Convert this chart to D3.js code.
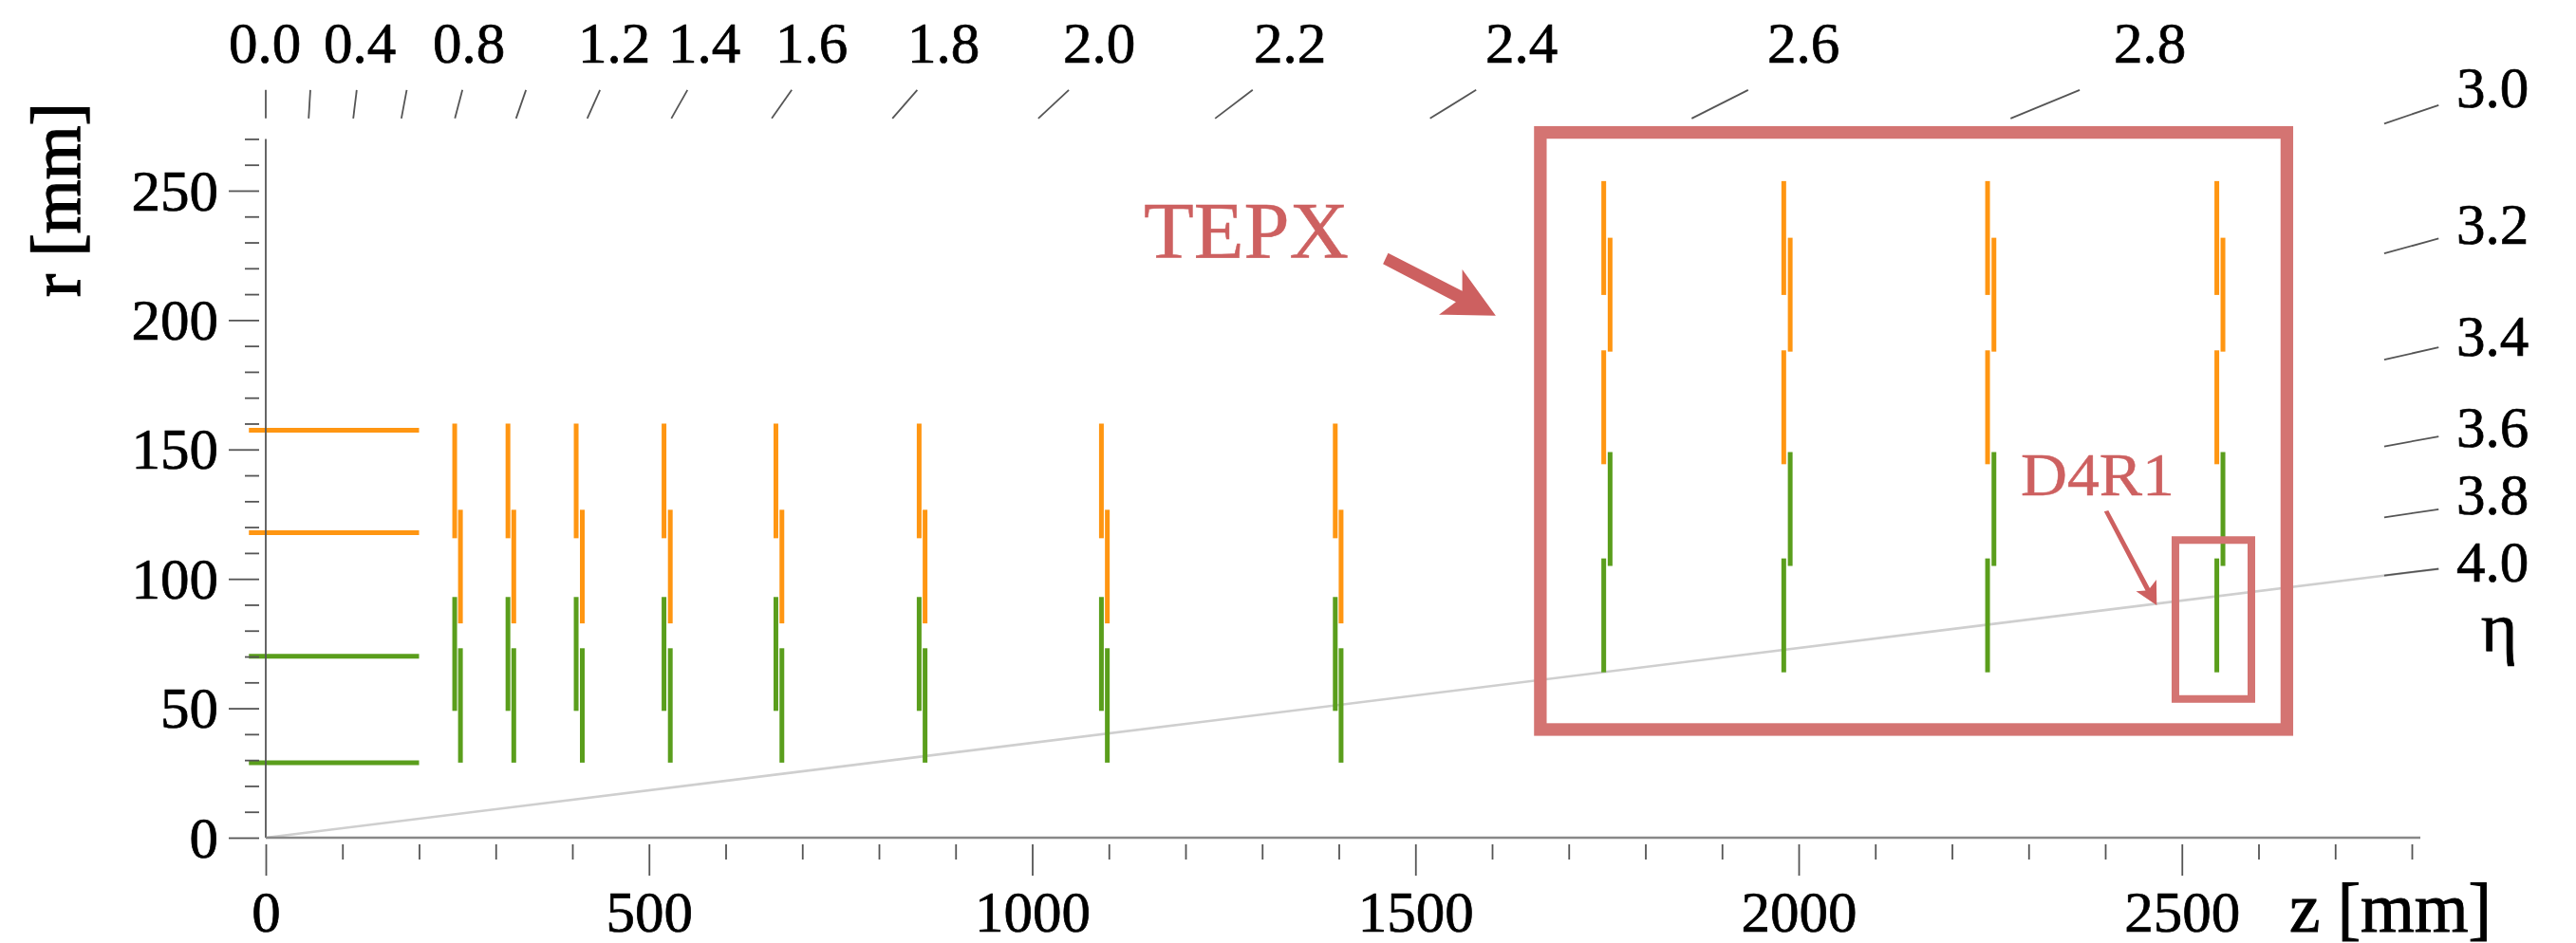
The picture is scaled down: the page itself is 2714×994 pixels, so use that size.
<!DOCTYPE html>
<html><head><meta charset="utf-8">
<script src="https://cdn.jsdelivr.net/npm/d3@7"></script>
<style>html,body{margin:0;padding:0;background:#fff}svg{display:block}text{font-family:"Liberation Serif",serif;fill:#000}</style>
</head><body><svg id="c" width="2714" height="994"></svg>
<script>
// ---- data (mm) ----
const zMajor = [0, 500, 1000, 1500, 2000, 2500];
const zMinor = [100,200,300,400,600,700,800,900,1100,1200,1300,1400,1600,1700,1800,1900,2100,2200,2300,2400,2600,2700,2800];
const rMajor = [0, 50, 100, 150, 200, 250];
const rMinor = [10,20,30,40,60,70,80,90,110,120,130,140,160,170,180,190,210,220,230,240,260,270];
const etaTop = [0.0,0.2,0.4,0.6,0.8,1.0,1.2,1.4,1.6,1.8,2.0,2.2,2.4,2.6,2.8];
const etaTopLabels = ["0.0","0.4","0.8","1.2","1.4","1.6","1.8","2.0","2.2","2.4","2.6","2.8"];
const etaTopLabelX = [279,379,494,647,742,855,994,1158,1359,1603,1900,2265];
const etaRight = [3.0,3.2,3.4,3.6,3.8,4.0];
const etaRightLabels = ["3.0","3.2","3.4","3.6","3.8","4.0"];
const etaRightBaseline = [112.7,256.7,375,470.7,542.3,613.3];

const barrelR = [157.4, 117.8, 70.1, 29];
const barrelColor = ["orange","orange","green","green"];
const barrelZ = [-22, 200];

const tfpxZA = [246.5, 316, 405, 519.6, 665.6, 852.5, 1090.3, 1395.4];
const tfpxZB = [254, 323.6, 413, 527.8, 673.4, 860.2, 1098, 1403];
const tepxZA = [1745.7, 1980.6, 2246.5, 2545.6];
const tepxZB = [1754, 1989, 2254.8, 2553.6];

const tfpxRingsA = [[115.7,160,"orange"],[49,93,"green"]];
const tfpxRingsB = [[82.8,126.7,"orange"],[29,73.2,"green"]];
const tepxRingsA = [[209.7,253.7,"orange"],[144.3,188.3,"orange"],[63.9,107.9,"green"]];
const tepxRingsB = [[187.8,231.8,"orange"],[105,149,"green"]];

const tepxBox = {z:[1663,2637], r:[41.8,272.5]};
const d4r1Box = {z:[2491.6,2590.7], r:[53.6,115]};

// ---- style ----
const colors = {orange:"#ff9612", green:"#5a9e1c"};
const boxColor = "#d47472", noteColor = "#cd6060", tickColor = "#555";
const FS = 61, SW = 0.7;

const svg = d3.select("#c");
const x = d3.scaleLinear().domain([0,2800]).range([280,2541]);
const y = d3.scaleLinear().domain([0,270]).range([883,146.4]);

const rOf = (z,eta)=> z/Math.sinh(eta);
const zOf = (r,eta)=> r*Math.sinh(eta);
const zEnd = 2835, zIn = 2764, rIn = 277.9, rOut = 288.9;

// eta reference line
svg.append("line").attr("x1",x(0)).attr("y1",y(0)).attr("x2",x(zEnd)).attr("y2",y(rOf(zEnd,4)))
  .attr("stroke","#cfcfcf").attr("stroke-width",2.6);

// barrel layers
svg.append("g").selectAll("line").data(barrelR).join("line")
  .attr("x1",x(barrelZ[0])).attr("x2",x(barrelZ[1]))
  .attr("y1",d=>y(d)).attr("y2",d=>y(d))
  .attr("stroke",(d,i)=>colors[barrelColor[i]]).attr("stroke-width",5);

// discs
function discs(zs, rings){
  const segs = zs.flatMap(z=>rings.map(r=>({z,r0:r[0],r1:r[1],c:r[2]})));
  svg.append("g").selectAll("line").data(segs).join("line")
    .attr("x1",d=>x(d.z)).attr("x2",d=>x(d.z))
    .attr("y1",d=>y(d.r0)).attr("y2",d=>y(d.r1))
    .attr("stroke",d=>colors[d.c]).attr("stroke-width",5);
}
discs(tfpxZA,tfpxRingsA); discs(tfpxZB,tfpxRingsB);
discs(tepxZA,tepxRingsA); discs(tepxZB,tepxRingsB);

// axes
function styleAxis(g){
  g.select(".domain").remove();
  g.selectAll("line").attr("stroke",tickColor).attr("stroke-width",1.8);
  g.selectAll("text").attr("font-size",FS).attr("font-family",'"Liberation Serif",serif')
    .attr("fill","#000").attr("stroke","#000").attr("stroke-width",SW);
}
const dropText = g=>g.selectAll("text").remove();
const left = d3.axisLeft(y).tickValues(rMajor).tickSize(32).tickPadding(11).tickFormat(d3.format("d"));
const leftG = svg.append("g").attr("transform","translate(273,0)").call(left).call(styleAxis);
leftG.selectAll("text").attr("dy","0.33em");
svg.append("g").attr("transform","translate(273,0)")
  .call(d3.axisLeft(y).tickValues(rMinor).tickSize(15)).call(styleAxis).call(dropText);

const bottom = d3.axisBottom(x).tickValues(zMajor).tickSize(33).tickPadding(15.5).tickFormat(d3.format("d"));
svg.append("g").attr("transform","translate(0,890)").call(bottom).call(styleAxis);
svg.append("g").attr("transform","translate(0,890)")
  .call(d3.axisBottom(x).tickValues(zMinor).tickSize(16)).call(styleAxis).call(dropText);

svg.append("line").attr("x1",x(0)).attr("x2",x(0)).attr("y1",y(270)).attr("y2",y(0)).attr("stroke",tickColor).attr("stroke-width",1.8);
svg.append("line").attr("x1",x(0)).attr("x2",2550).attr("y1",y(0)).attr("y2",y(0)).attr("stroke","#888").attr("stroke-width",2.6);

// eta ticks
svg.append("g").selectAll("line").data(etaTop).join("line")
  .attr("x1",e=>x(zOf(rIn,e))).attr("y1",y(rIn))
  .attr("x2",e=>x(zOf(rOut,e))).attr("y2",y(rOut))
  .attr("stroke",tickColor).attr("stroke-width",1.8);
svg.append("g").selectAll("line").data(etaRight).join("line")
  .attr("x1",x(zIn)).attr("y1",e=>y(rOf(zIn,e)))
  .attr("x2",x(zEnd)).attr("y2",e=>y(rOf(zEnd,e)))
  .attr("stroke",tickColor).attr("stroke-width",1.8);

const heavy = s=>s.attr("stroke","#000").attr("stroke-width",SW);
svg.append("g").selectAll("text").data(etaTopLabels).join("text")
  .attr("x",(d,i)=>etaTopLabelX[i]).attr("y",65.7).attr("text-anchor","middle")
  .attr("font-size",FS).text(d=>d).call(heavy);
svg.append("g").selectAll("text").data(etaRightLabels).join("text")
  .attr("x",2626).attr("y",(d,i)=>etaRightBaseline[i]).attr("text-anchor","middle")
  .attr("font-size",FS).text(d=>d).call(heavy);

svg.append("text").attr("x",2633).attr("y",686).attr("text-anchor","middle").attr("font-size",74).text("η").call(heavy);
svg.append("text").attr("x",2412).attr("y",981.7).attr("font-size",73).text("z [mm]").attr("stroke","#000").attr("stroke-width",1);
svg.append("text").attr("transform","translate(84,313) rotate(-90)").attr("font-size",73).text("r [mm]").attr("stroke","#000").attr("stroke-width",1.4);

// annotations
function box(b,w){
  svg.append("rect").attr("x",x(b.z[0])).attr("width",x(b.z[1])-x(b.z[0]))
    .attr("y",y(b.r[1])).attr("height",y(b.r[0])-y(b.r[1]))
    .attr("fill","none").attr("stroke",boxColor).attr("stroke-width",w);
}
box(tepxBox,13.3); box(d4r1Box,8);

const note = (t,xp,yp,fs,len)=>svg.append("text").attr("x",xp).attr("y",yp)
  .attr("font-family",'"DejaVu Serif",serif').attr("font-size",fs).attr("textLength",len)
  .attr("lengthAdjust","spacingAndGlyphs").style("fill",noteColor)
  .attr("stroke",noteColor).attr("stroke-width",0.5).text(t);
note("TEPX",1205,272.3,85,216);
note("D4R1",2129,521.7,64,162);

const line = d3.line();
svg.append("path").attr("fill",noteColor).attr("d",line([[1462.5,266.7],[1540.6,306.7],[1540.6,284],[1575.9,332.7],[1516,331.7],[1533.9,318.3],[1457.1,278.3]])+"Z");
svg.append("path").attr("fill",noteColor).attr("d",line([[2221.3,538],[2265,620],[2271.9,611],[2272.3,638],[2250.5,623.3],[2260.5,622.5],[2216.8,539.3]])+"Z");
</script></body></html>
